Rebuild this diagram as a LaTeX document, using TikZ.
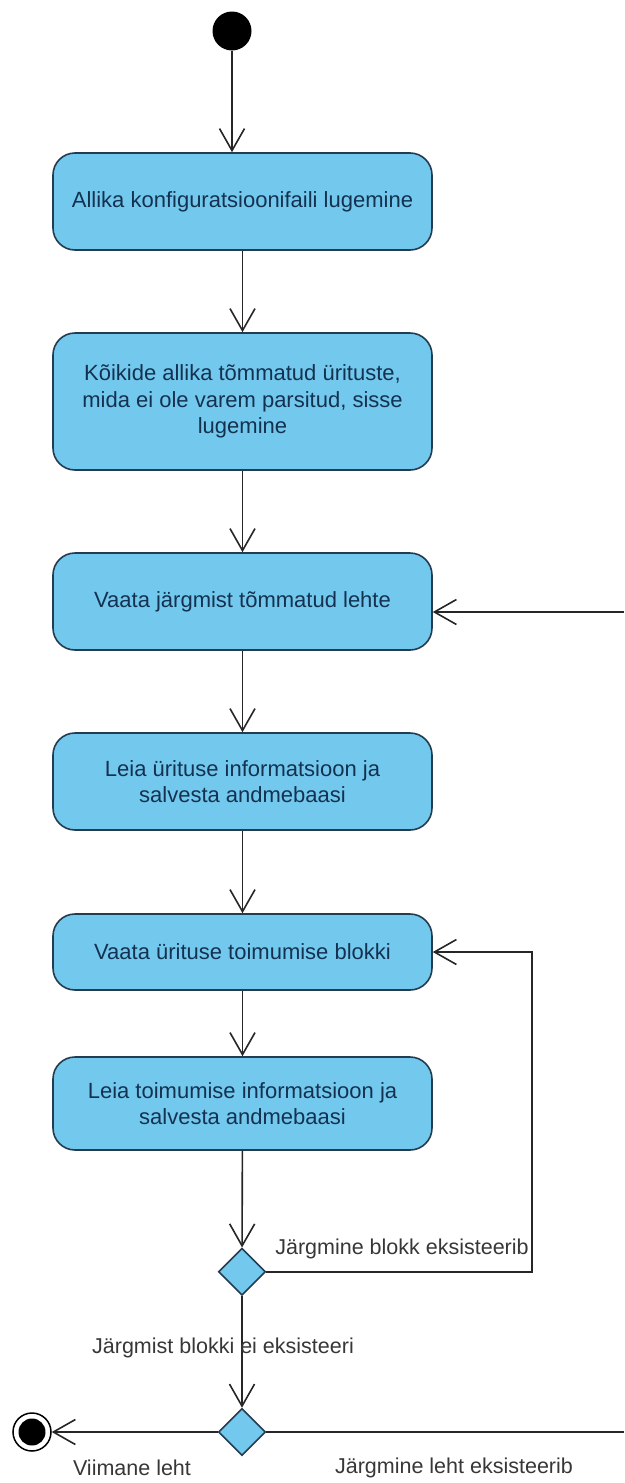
\documentclass[tikz,border=0pt]{standalone}
\usepackage{fontspec}
\setmainfont{Liberation Sans}
\usetikzlibrary{arrows.meta,shapes.geometric}
\definecolor{actfill}{RGB}{115,200,238}
\definecolor{actline}{RGB}{35,60,80}
\definecolor{acttext}{RGB}{20,50,80}
\definecolor{labeltext}{RGB}{55,55,55}
\begin{document}
\begin{tikzpicture}[x=1pt,y=-1pt,
  action/.style={draw=actline, line width=1.6pt, fill=actfill, rounded corners=22pt,
    minimum width=379pt, align=center, text=acttext, inner sep=0pt,
    font=\fontsize{22}{26.5}\selectfont},
  decision/.style={draw=actline, line width=1.6pt, fill=actfill, diamond, aspect=1,
    minimum width=47pt, minimum height=47pt, inner sep=0pt},
  flow/.style={draw=black!85, line width=1.6pt,
    -{Straight Barb[length=22pt,width=25pt]}},
  plain/.style={draw=black!85, line width=1.6pt},
  guard/.style={text=labeltext, inner sep=0pt, font=\fontsize{21.5}{26.5}\selectfont}
]
\useasboundingbox (0,0) rectangle (624,1483);

% initial node
\node[circle, fill=black, minimum size=39pt, inner sep=0pt] (start) at (232,31) {};

% actions
\node[action, minimum height=97pt] (b1) at (242.5,201.5) {Allika konfiguratsioonifaili lugemine};
\node[action, minimum height=137pt] (b2) at (242.5,401.5) {Kõikide allika tõmmatud ürituste,\\mida ei ole varem parsitud, sisse\\lugemine};
\node[action, minimum height=97pt] (b3) at (242.5,601.5) {Vaata järgmist tõmmatud lehte};
\node[action, minimum height=97pt] (b4) at (242.5,781.5) {Leia ürituse informatsioon ja\\salvesta andmebaasi};
\node[action, minimum height=76pt] (b5) at (242.5,952) {Vaata ürituse toimumise blokki};
\node[action, minimum height=93pt] (b6) at (242.5,1103.5) {Leia toimumise informatsioon ja\\salvesta andmebaasi};

% decisions
\node[decision] (d1) at (242,1271.7) {};
\node[decision] (d2) at (242,1432) {};

% final node
\node[circle, draw=black, line width=1.5pt, fill=white, minimum size=38pt, inner sep=0pt] (fin) at (32,1432) {};
\fill[black] (fin.center) circle (13.5);

% main flow
\draw[flow] (start) -- (start |- b1.north);
\draw[flow] (b1) -- (b2);
\draw[flow] (b2) -- (b3);
\draw[flow] (b3) -- (b4);
\draw[flow] (b4) -- (b5);
\draw[flow] (b5) -- (b6);
\draw[flow] (b6) -- (d1);
\draw[flow] (d1) -- (d2);
\draw[flow] (d2) -- (fin);

% loop back to the next block
\coordinate (c1) at (532,952);
\draw[flow] (d1.east) -| (c1) -- (b5.east);

% loop back to the next page (runs past the page edge)
\coordinate (r1) at (624,1432);
\coordinate (r2) at (624,612);
\draw[plain] (d2.east) -- (r1);
\draw[flow] (r2) -- (r2 -| b3.east);

% guards
\node[guard] (g1) at (402,1249) {Järgmine blokk eksisteerib};
\node[guard] (g2) at (223,1348) {Järgmist blokki ei eksisteeri};
\node[guard] (g3) at (132,1468) {Viimane leht};
\node[guard] (g4) at (454,1468) {Järgmine leht eksisteerib};
\end{tikzpicture}
\end{document}
